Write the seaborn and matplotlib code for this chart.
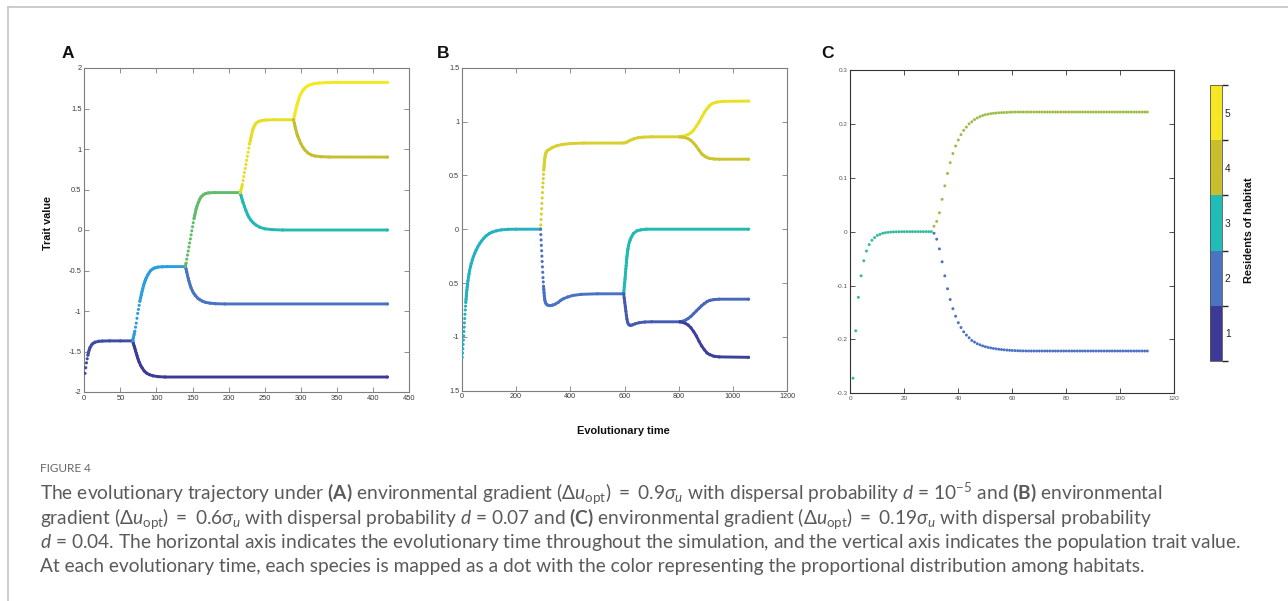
import numpy as np
import pandas as pd
import matplotlib
matplotlib.use("Agg")
import matplotlib.pyplot as plt
import seaborn as sns
from matplotlib.colors import LinearSegmentedColormap, ListedColormap, BoundaryNorm, Normalize
from matplotlib.cm import ScalarMappable
from matplotlib.lines import Line2D

# ======================= DATA =======================
# ---- Panel A (time, trait value) for each lineage ----
A_trunk_t = [1, 2, 3, 4, 5, 6, 7, 8, 10, 12, 15, 20, 25, 35, 50, 67]
A_trunk_v = [-1.77, -1.70, -1.64, -1.59, -1.545, -1.505, -1.475, -1.45, -1.42, -1.40, -1.385, -1.374, -1.371, -1.369, -1.369, -1.369]
A_low1_t = [67, 68, 69, 70, 71, 72, 73, 74, 75, 76, 78, 80, 83, 86, 90, 95, 102, 112, 420]
A_low1_v = [-1.369, -1.40, -1.43, -1.46, -1.49, -1.52, -1.55, -1.58, -1.605, -1.63, -1.67, -1.70, -1.74, -1.765, -1.785, -1.80, -1.81, -1.815, -1.815]
A_up1_t = [67, 68, 69, 70, 71, 72, 73, 74, 75, 76, 77, 78, 79, 80, 81, 82, 83, 84, 85, 86, 88, 90, 92, 95, 98, 102, 108, 115, 140]
A_up1_v = [-1.369, -1.33, -1.29, -1.25, -1.20, -1.15, -1.09, -1.03, -0.98, -0.93, -0.88, -0.84, -0.80, -0.76, -0.725, -0.69, -0.66, -0.635, -0.61, -0.59,
           -0.555, -0.525, -0.50, -0.48, -0.467, -0.458, -0.454, -0.452, -0.452]
A_low2_t = [140, 141, 142, 143, 144, 145, 146, 147, 148, 150, 152, 154, 157, 160, 164, 168, 174, 182, 195, 420]
A_low2_v = [-0.452, -0.48, -0.52, -0.56, -0.595, -0.63, -0.66, -0.69, -0.715, -0.755, -0.785, -0.81, -0.84, -0.86, -0.88, -0.893, -0.903, -0.91, -0.913, -0.913]
A_up2_t = [140, 141, 142, 143, 144, 145, 146, 147, 148, 149, 150, 151, 152, 153, 154, 155, 156, 158, 160, 162, 165, 168, 172, 180, 216]
A_up2_v = [-0.452, -0.41, -0.36, -0.31, -0.26, -0.21, -0.16, -0.11, -0.06, -0.01, 0.04, 0.09, 0.14, 0.18, 0.22, 0.26, 0.29,
           0.34, 0.38, 0.41, 0.435, 0.45, 0.458, 0.462, 0.462]
A_low3_t = [216, 217, 218, 219, 220, 222, 224, 226, 228, 231, 234, 238, 243, 250, 260, 275, 420]
A_low3_v = [0.462, 0.43, 0.40, 0.37, 0.34, 0.29, 0.24, 0.195, 0.16, 0.12, 0.09, 0.06, 0.035, 0.015, 0.005, 0.0, 0.0]
A_up3_t = [216, 217, 218, 219, 220, 221, 222, 223, 224, 225, 226, 227, 228, 229, 230, 231, 232, 233, 234, 235, 237, 239, 242, 246, 252, 262, 290]
A_up3_v = [0.462, 0.49, 0.52, 0.56, 0.61, 0.66, 0.71, 0.76, 0.81, 0.86, 0.91, 0.96, 1.01, 1.06, 1.10, 1.14, 1.18, 1.22, 1.25, 1.275,
           1.305, 1.325, 1.342, 1.352, 1.358, 1.361, 1.361]
A_up4_t = [290, 291, 292, 293, 294, 295, 296, 297, 298, 299, 300, 302, 304, 306, 309, 313, 318, 325, 335, 350, 420]
A_up4_v = [1.361, 1.40, 1.44, 1.48, 1.515, 1.55, 1.58, 1.61, 1.635, 1.66, 1.68, 1.71, 1.735, 1.755, 1.775, 1.793, 1.805, 1.814, 1.819, 1.822, 1.822]
A_low4_t = [290, 291, 292, 293, 294, 295, 296, 298, 300, 303, 306, 310, 315, 320, 328, 340, 420]
A_low4_v = [1.361, 1.32, 1.28, 1.245, 1.21, 1.18, 1.155, 1.11, 1.07, 1.02, 0.985, 0.95, 0.925, 0.913, 0.905, 0.901, 0.90]
# mean habitat index (colour value) of each lineage
A_habitat = [1.3, 1.0, 2.5, 2.0, 3.5, 3.0, 4.6, 5.0, 4.0]

# ---- Panel B ----
B_trunk_t = [1, 2, 3, 4, 5, 6, 7, 8, 9, 10, 11, 12, 13, 14, 15, 16, 17, 18, 19, 20,
             22, 24, 26, 28, 31, 34, 38, 42, 47, 52, 58, 65, 72, 80, 90, 100, 110, 127, 145, 170, 200, 290]
B_trunk_v = [-1.19, -1.15, -1.11, -1.07, -1.03, -0.99, -0.95, -0.91, -0.87, -0.83, -0.79, -0.75, -0.715, -0.68, -0.65, -0.62, -0.59, -0.565, -0.54, -0.52,
             -0.48, -0.445, -0.415, -0.385, -0.35, -0.32, -0.285, -0.255, -0.225, -0.195, -0.165, -0.135, -0.11, -0.085, -0.06, -0.042, -0.028, -0.015, -0.006, -0.001, 0.0, 0.0]
B_up1_t = [290, 291, 292, 293, 294, 295, 296, 297, 298, 299, 300, 301, 302, 303, 304, 305, 306, 307, 308,
           310, 313, 318, 325, 335, 350, 370, 400, 450, 590, 600, 610, 620, 635, 650, 670, 700, 805]
B_up1_v = [0.0, 0.04, 0.09, 0.14, 0.19, 0.24, 0.29, 0.34, 0.39, 0.43, 0.47, 0.51, 0.55, 0.58, 0.61, 0.64, 0.66, 0.68, 0.695,
           0.71, 0.725, 0.735, 0.745, 0.76, 0.775, 0.787, 0.795, 0.80, 0.80, 0.802, 0.81, 0.825, 0.84, 0.85, 0.855, 0.858, 0.858]
B_upup_t = [805, 815, 825, 835, 845, 855, 865, 875, 885, 895, 905, 915, 925, 940, 960, 1058]
B_upup_v = [0.858, 0.862, 0.87, 0.88, 0.895, 0.92, 0.955, 0.995, 1.04, 1.085, 1.12, 1.15, 1.168, 1.18, 1.187, 1.19]
B_uplow_t = [805, 815, 825, 835, 845, 855, 865, 875, 885, 895, 905, 915, 930, 950, 1058]
B_uplow_v = [0.858, 0.855, 0.85, 0.84, 0.825, 0.80, 0.77, 0.735, 0.70, 0.68, 0.665, 0.657, 0.652, 0.65, 0.65]
B_low1_t = [290, 291, 292, 293, 294, 295, 296, 297, 298, 299, 300, 301, 302, 303, 304, 305, 306,
            308, 311, 316, 325, 335, 345, 355, 365, 375, 390, 410, 440, 500, 597]
B_low1_v = [0.0, -0.05, -0.10, -0.15, -0.20, -0.25, -0.30, -0.35, -0.40, -0.45, -0.49, -0.53, -0.56, -0.59, -0.62, -0.64, -0.66,
            -0.68, -0.695, -0.705, -0.71, -0.705, -0.695, -0.68, -0.66, -0.645, -0.63, -0.615, -0.605, -0.60, -0.60]
B_lowup_t = [597, 598, 599, 600, 601, 602, 603, 604, 605, 606, 607, 608, 609, 610, 611, 612, 613,
             615, 618, 621, 625, 633, 645, 660, 680, 1058]
B_lowup_v = [-0.60, -0.57, -0.54, -0.51, -0.49, -0.46, -0.43, -0.40, -0.37, -0.34, -0.31, -0.28, -0.255, -0.235, -0.215, -0.195, -0.18,
             -0.15, -0.12, -0.10, -0.075, -0.04, -0.016, -0.006, 0.0, 0.0]
B_lowlow_t = [597, 599, 601, 603, 605, 607, 609, 611, 614, 618, 623, 630, 640, 655, 675, 700, 805]
B_lowlow_v = [-0.60, -0.64, -0.68, -0.72, -0.76, -0.80, -0.835, -0.86, -0.88, -0.89, -0.893, -0.888, -0.878, -0.868, -0.862, -0.86, -0.86]
B_llup_t = [805, 815, 825, 835, 845, 855, 865, 875, 885, 895, 905, 915, 930, 950, 1058]
B_llup_v = [-0.86, -0.855, -0.845, -0.83, -0.81, -0.785, -0.76, -0.735, -0.71, -0.69, -0.672, -0.661, -0.654, -0.65, -0.65]
B_lllow_t = [805, 815, 825, 835, 845, 855, 865, 875, 885, 895, 905, 915, 930, 950, 1058]
B_lllow_v = [-0.86, -0.865, -0.875, -0.89, -0.915, -0.95, -0.99, -1.04, -1.085, -1.12, -1.15, -1.165, -1.18, -1.186, -1.19]
B_habitat = [2.85, 4.3, 4.7, 4.1, 2.0, 3.0, 1.6, 1.8, 1.1]

# ---- Panel C (one dot per time step) ----
C_trunk_t = list(range(1, 31))
C_trunk_v = [-0.272, -0.184, -0.122, -0.082, -0.054, -0.036, -0.024, -0.016, -0.011, -0.007,
             -0.005, -0.003, -0.002, -0.0013, -0.0008, -0.0005, -0.0003, -0.0002, -0.0001, 0.0,
             0.0, 0.0, 0.0, 0.0, 0.0, 0.0, 0.0, 0.0, 0.0, 0.0]
C_branch_t = list(range(31, 111))
C_up_v = [0.010, 0.019, 0.035, 0.060, 0.085, 0.108, 0.128, 0.145, 0.159, 0.170,
          0.180, 0.188, 0.194, 0.200, 0.204, 0.208, 0.211, 0.2135, 0.2155, 0.217,
          0.218, 0.219, 0.2197, 0.2202, 0.2206, 0.2209, 0.2211, 0.2213, 0.2216, 0.2218,
          0.222, 0.222, 0.222, 0.222, 0.222, 0.222, 0.222, 0.222, 0.222, 0.222,
          0.222, 0.222, 0.222, 0.222, 0.222, 0.222, 0.222, 0.222, 0.222, 0.222,
          0.222, 0.222, 0.222, 0.222, 0.222, 0.222, 0.222, 0.222, 0.222, 0.222,
          0.222, 0.222, 0.222, 0.222, 0.222, 0.222, 0.222, 0.222, 0.222, 0.222,
          0.222, 0.222, 0.222, 0.222, 0.222, 0.222, 0.222, 0.222, 0.222, 0.222]
C_low_v = [-0.003, -0.014, -0.032, -0.056, -0.082, -0.106, -0.126, -0.143, -0.157, -0.169,
           -0.178, -0.186, -0.192, -0.197, -0.202, -0.205, -0.208, -0.210, -0.212, -0.2135,
           -0.2148, -0.2158, -0.2167, -0.2175, -0.2182, -0.2188, -0.2193, -0.2198, -0.2202, -0.2205,
           -0.2208, -0.221, -0.2212, -0.2213, -0.2214, -0.2215, -0.2215, -0.2215, -0.2215, -0.2215,
           -0.2215, -0.2215, -0.2215, -0.2215, -0.2215, -0.2215, -0.2215, -0.2215, -0.2215, -0.2215,
           -0.2215, -0.2215, -0.2215, -0.2215, -0.2215, -0.2215, -0.2215, -0.2215, -0.2215, -0.2215,
           -0.2215, -0.2215, -0.2215, -0.2215, -0.2215, -0.2215, -0.2215, -0.2215, -0.2215, -0.2215,
           -0.2215, -0.2215, -0.2215, -0.2215, -0.2215, -0.2215, -0.2215, -0.2215, -0.2215, -0.2215]
C_habitat = [3.15, 3.8, 2.0]

# ---- axes ticks ----
A_xticks = [0, 50, 100, 150, 200, 250, 300, 350, 400, 450]
A_yticks = [-2, -1.5, -1, -0.5, 0, 0.5, 1, 1.5, 2]
A_ylabels = ['-2', '-1.5', '-1', '-0.5', '0', '0.5', '1', '1.5', '2']
B_xticks = [0, 200, 400, 600, 800, 1000, 1200]
B_yticks = [-1.5, -1, -0.5, 0, 0.5, 1, 1.5]
B_ylabels = ['1.5', '-1', '0.5', '0', '0.5', '1', '1.5']
C_xticks = [0, 20, 40, 60, 80, 100, 120]
C_yticks = [-0.3, -0.2, -0.1, 0, 0.1, 0.2, 0.3]
C_ylabels = ['-0.3', '-0.2', '-0.1', '0', '0.1', '0.2', '0.3']

HABITAT_LEVELS = [1, 2, 3, 4, 5]
HABITAT_COLORS = ['#3b3a98', '#4a73c0', '#1fbdb5', '#c9bf2d', '#f6e722']

CAPTION_TITLE = "FIGURE 4"
CAPTION_LINES = [
    r"The evolutionary trajectory under $\mathbf{(A)}$ environmental gradient $(\Delta u_{\mathrm{opt}})\ =\ 0.9\sigma_u$ with dispersal probability $d$ = 10$^{-5}$ and $\mathbf{(B)}$ environmental",
    r"gradient $(\Delta u_{\mathrm{opt}})\ =\ 0.6\sigma_u$ with dispersal probability $d$ = 0.07 and $\mathbf{(C)}$ environmental gradient $(\Delta u_{\mathrm{opt}})\ =\ 0.19\sigma_u$ with dispersal probability",
    r"$d$ = 0.04. The horizontal axis indicates the evolutionary time throughout the simulation, and the vertical axis indicates the population trait value.",
    "At each evolutionary time, each species is mapped as a dot with the color representing the proportional distribution among habitats.",
]

# ======================= STYLE =======================
sns.set_theme(style="white")
LAB_FONT = ['Liberation Sans', 'DejaVu Sans']
plt.rcParams['font.family'] = LAB_FONT
CAP_FONT = 'Lato'
plt.rcParams.update({
    'mathtext.fontset': 'custom',
    'mathtext.rm': CAP_FONT,
    'mathtext.it': CAP_FONT + ':italic',
    'mathtext.bf': CAP_FONT + ':bold',
    'mathtext.sf': CAP_FONT,
})

W, H = 1288, 601
fig = plt.figure(figsize=(W / 100, H / 100), dpi=100)
fig.patch.set_facecolor('white')


def fx(px):
    return px / W


def fy(py):
    return 1 - py / H


point_cmap = LinearSegmentedColormap.from_list('habitat', [
    (0.0, '#3b3a98'), (0.25, '#4a72c4'), (0.375, '#2a9ee0'), (0.5, '#20bab2'),
    (0.625, '#5ebd6c'), (0.75, '#c5bd30'), (0.875, '#e4dc28'), (1.0, '#f4e820')])
point_norm = Normalize(vmin=1, vmax=5)


def draw_runs(ax, t, v, c, thresh_px, lw):
    """Join consecutive knots whose per-time-step spacing would make dots merge."""
    t = np.asarray(t, float)
    v = np.asarray(v, float)
    y0, y1 = ax.get_ylim()
    ppu = ax.bbox.height / (y1 - y0)
    step = np.abs(np.diff(v)) / np.diff(t) * ppu
    ok = step < thresh_px
    n = len(ok)
    i = 0
    col = point_cmap(point_norm(c))
    while i < n:
        if ok[i]:
            j = i
            while j < n and ok[j]:
                j += 1
            ax.plot(t[i:j + 1], v[i:j + 1], color=col, lw=lw, solid_capstyle='round', zorder=2)
            i = j
        else:
            i += 1


def panel(rect, lineages, xlim, xticks, ylim, yticks, ylabels, dot_s, lw, spine_color,
          tick_fs, label_color, join):
    ax = fig.add_axes(rect)
    ax.set_xlim(xlim)
    ax.set_ylim(ylim)
    frames = []
    for k, (t, v, c) in enumerate(lineages):
        frames.append(pd.DataFrame({'t': t, 'v': v, 'c': c, 'lin': k}))
    df = pd.concat(frames, ignore_index=True)
    if join:
        for t, v, c in lineages:
            draw_runs(ax, t, v, c, 3.5, lw)
    sns.scatterplot(data=df, x='t', y='v', hue='c', palette=point_cmap, hue_norm=point_norm,
                    s=dot_s, linewidth=0, legend=False, ax=ax, zorder=3)
    ax.set_xlim(xlim)
    ax.set_ylim(ylim)
    ax.set_xlabel('')
    ax.set_ylabel('')
    ax.set_xticks(xticks)
    ax.set_xticklabels([str(x) for x in xticks], family=LAB_FONT)
    ax.set_yticks(yticks)
    ax.set_yticklabels(ylabels, family=LAB_FONT)
    ax.tick_params(direction='in', length=3.5, width=0.6, color=spine_color,
                   labelcolor=label_color, labelsize=tick_fs, top=True, right=True,
                   bottom=True, left=True, pad=2)
    for s in ax.spines.values():
        s.set_visible(True)
        s.set_color(spine_color)
        s.set_linewidth(0.8)
    ax.grid(False)
    ax.set_facecolor('white')
    return ax


# ---- Panel A ----
A_lineages = [(A_trunk_t, A_trunk_v, A_habitat[0]), (A_low1_t, A_low1_v, A_habitat[1]),
              (A_up1_t, A_up1_v, A_habitat[2]), (A_low2_t, A_low2_v, A_habitat[3]),
              (A_up2_t, A_up2_v, A_habitat[4]), (A_low3_t, A_low3_v, A_habitat[5]),
              (A_up3_t, A_up3_v, A_habitat[6]), (A_up4_t, A_up4_v, A_habitat[7]),
              (A_low4_t, A_low4_v, A_habitat[8])]
panel([fx(84.3), fy(392), fx(324.7), 324 / H], A_lineages, (0, 450), A_xticks, (-2, 2),
      A_yticks, A_ylabels, 5, 2.1, '#7d7d7d', 5.4, '#3a3a3a', True)

# ---- Panel B ----
B_lineages = [(B_trunk_t, B_trunk_v, B_habitat[0]), (B_up1_t, B_up1_v, B_habitat[1]),
              (B_upup_t, B_upup_v, B_habitat[2]), (B_uplow_t, B_uplow_v, B_habitat[3]),
              (B_low1_t, B_low1_v, B_habitat[4]), (B_lowup_t, B_lowup_v, B_habitat[5]),
              (B_lowlow_t, B_lowlow_v, B_habitat[6]), (B_llup_t, B_llup_v, B_habitat[7]),
              (B_lllow_t, B_lllow_v, B_habitat[8])]
panel([fx(462), fy(390.7), fx(325), 323 / H], B_lineages, (0, 1200), B_xticks, (-1.5, 1.5),
      B_yticks, B_ylabels, 5, 2.1, '#7d7d7d', 5.2, '#3a3a3a', True)

# ---- Panel C ----
C_lineages = [(C_trunk_t, C_trunk_v, C_habitat[0]), (C_branch_t, C_up_v, C_habitat[1]),
              (C_branch_t, C_low_v, C_habitat[2])]
panel([fx(850.3), fy(393.3), fx(324), 323.3 / H], C_lineages, (0, 120), C_xticks, (-0.3, 0.3),
      C_yticks, C_ylabels, 4.5, 2.0, '#333333', 4.6, '#555555', False)

# ---- colorbar ----
cax = fig.add_axes([fx(1210), fy(361), fx(12), 276 / H])
sm = ScalarMappable(norm=BoundaryNorm(np.arange(0.5, 6.0, 1.0), len(HABITAT_COLORS)),
                    cmap=ListedColormap(HABITAT_COLORS))
cb = fig.colorbar(sm, cax=cax, ticks=HABITAT_LEVELS)
cb.ax.set_yticklabels([str(x) for x in HABITAT_LEVELS], family=LAB_FONT)
cb.ax.tick_params(direction='in', length=2, width=0.5, labelsize=7.3, pad=2,
                  color='#333333', labelcolor='#222222')
cb.outline.set_edgecolor('#555555')
cb.outline.set_linewidth(0.6)

# ---- labels ----
bold = dict(fontweight='bold', color='#111111', family=LAB_FONT)
fig.text(fx(62), fy(58.3), 'A', fontsize=12.5, ha='left', va='baseline', **bold)
fig.text(fx(437), fy(58.3), 'B', fontsize=12.5, ha='left', va='baseline', **bold)
fig.text(fx(821), fy(57.5), 'C', fontsize=12.5, ha='left', va='baseline', **bold)
fig.text(fx(48), fy(223), 'Trait value', rotation=90, fontsize=7.8, ha='center', va='center', **bold)
fig.text(fx(623), fy(431), 'Evolutionary time', fontsize=7.9, ha='center', va='center', **bold)
fig.text(fx(1249), fy(230), 'Residents of habitat', rotation=90, fontsize=7.9, ha='center', va='center', **bold)

# ---- frame lines ----
fig.add_artist(Line2D([fx(8), 1.0], [fy(7), fy(7)], transform=fig.transFigure, color='#c4c4c4', lw=1.2))
fig.add_artist(Line2D([fx(8), fx(8)], [fy(7), 0.0], transform=fig.transFigure, color='#c4c4c4', lw=1.2))

# ---- caption ----
fig.text(fx(40), fy(472), CAPTION_TITLE, fontsize=8.5, family=CAP_FONT, color='#666666',
         ha='left', va='baseline')
cap_base = [500, 524, 548, 572]
cap_ends = [1193, 1165, 1240, 1033]
base_fs = 11.5
cap_texts = [fig.text(fx(40), fy(b), s, fontsize=base_fs, family=CAP_FONT, color='#5a5a5a',
                      ha='left', va='baseline') for s, b in zip(CAPTION_LINES, cap_base)]
fig.canvas.draw()
rend = fig.canvas.get_renderer()
ratios = [(e - 40) / t.get_window_extent(rend).width for t, e in zip(cap_texts, cap_ends)]
scale = float(np.median(ratios))
for t in cap_texts:
    t.set_fontsize(base_fs * scale)

fig.savefig('out.png', dpi=100, facecolor='white')
